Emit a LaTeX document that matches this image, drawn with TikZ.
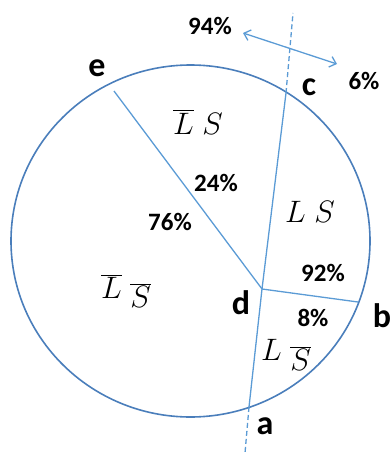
\RequirePackage{fix-cm}
\documentclass[tikz,border=0pt]{standalone}
\usepackage{fontspec}
\setsansfont{Carlito}
\usetikzlibrary{arrows.meta,positioning}
\definecolor{vnRing}{HTML}{4A7EBB}
\definecolor{vnLine}{HTML}{5B9BD5}
\tikzset{
  % outer circle
  ring/.style={draw=vnRing,line width=1.6pt},
  % cut lines
  cut/.style={draw=vnLine,line width=1.3pt},
  cutd/.style={draw=vnLine,line width=1.3pt,dashed,dash pattern=on 5pt off 3pt},
  % double arrow
  arr/.style={{Straight Barb[length=6pt,width=11pt]}-{Straight Barb[length=6pt,width=11pt]},
    draw=vnLine,line width=1.3pt},
  % point letters
  pt/.style={font=\fontsize{34}{38}\selectfont\sffamily\bfseries,inner sep=0pt},
  % percentages
  pct/.style={font=\fontsize{25}{28}\selectfont\sffamily\bfseries,inner sep=0pt},
  % regions
  reg/.style={font=\fontsize{20}{24}\selectfont,scale=1.55,transform shape,inner sep=0pt},
}
% lowered S-bar, as in the drawing
\newcommand{\lowSbar}{\raisebox{-0.3em}{$\overline{S}$}}
\begin{document}
\begin{tikzpicture}[x=1pt,y=-1pt]
  \useasboundingbox (0,0) rectangle (389,455);
  \draw[ring] (190.5,241) ellipse [x radius=179.5,y radius=176];

  \coordinate (pe) at (114,91);
  \coordinate (pd) at (262,289);
  \coordinate (pc) at (286,93);
  \coordinate (pb) at (358,302);
  \coordinate (pa) at (249,407);
  \coordinate (top) at (293,13);
  \coordinate (bot) at (245,453);
  \coordinate (al) at (243,33);
  \coordinate (ar) at (337,64);

  \draw[cut] (pe) -- (pd);
  \draw[cut] (pa) -- (pd) -- (pc);
  \draw[cut] (pd) -- (pb);
  \draw[cutd] (pc) -- (top);
  \draw[cutd] (pa) -- (bot);
  \draw[arr] (al) -- (ar);

  \node[pt] (le) at (97,68) {e};
  \node[pt] (lc) at (309,87) {c};
  \node[pt] (ld) at (241,303) {d};
  \node[pt] (lb) at (382,316) {b};
  \node[pt] (la) at (265,426) {a};

  \node[pct] (p94) at (210,26) {94\%};
  \node[pct] (p6) at (364,81) {6\%};
  \node[pct] (p24) at (216,183) {24\%};
  \node[pct] (p76) at (170,222) {76\%};
  \node[pct] (p92) at (323,273) {92\%};
  \node[pct] (p8) at (313,318) {8\%};

  \node[reg] (nls) at (198,122) {$\overline{L}\;S$};
  \node[reg] (ls) at (310,212) {$L\;S$};
  \node[reg] (nlns) at (126,291) {$\overline{L}\;$\lowSbar};
  \node[reg] (lns) at (286,355) {$L\;$\lowSbar};
\end{tikzpicture}
\end{document}
